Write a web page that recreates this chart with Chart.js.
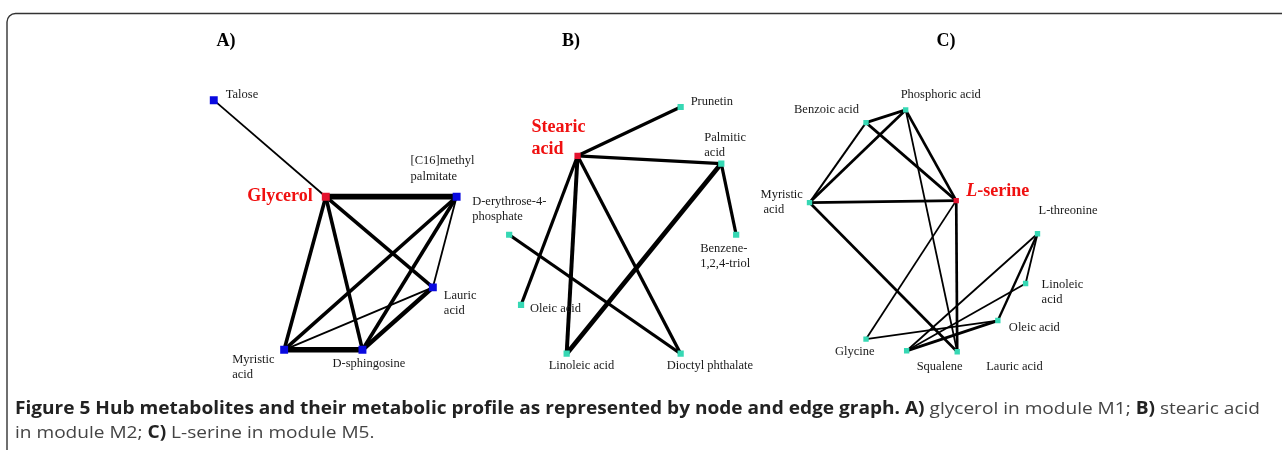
<!DOCTYPE html>
<html>
<head>
<meta charset="utf-8">
<script src="https://cdn.jsdelivr.net/npm/chart.js@4/dist/chart.umd.min.js"></script>
<style>
  html, body { margin: 0; padding: 0; background: #fff; }
  #wrap { width: 1282px; height: 450px; }
</style>
</head>
<body>
<div id="wrap"><canvas id="graph" width="1282" height="450"></canvas></div>
<script>
// Panel A - glycerol module M1
var namesA = ['Talose', 'Glycerol', '[C16]methyl palmitate', 'Lauric acid', 'Myristic acid', 'D-sphingosine'];
var xA = [210, 323, 455, 431, 281, 360];
var yA = [97, 196, 196, 289, 353, 353];
var edgesA = [[0, 1, 1], [1, 2, 3.2], [1, 4, 2], [1, 5, 2], [1, 3, 2], [2, 4, 2], [2, 5, 2], [2, 3, 1], [3, 4, 1], [3, 5, 2.5], [4, 5, 3]];

// Panel B - stearic acid module M2
var namesB = ['Prunetin', 'Stearic acid', 'Palmitic acid', 'D-erythrose-4-phosphate', 'Benzene-1,2,4-triol', 'Oleic acid', 'Linoleic acid', 'Dioctyl phthalate'];
var xB = [681, 577, 722, 508, 737, 520, 566, 681];
var yB = [104, 154, 162, 235, 235, 307, 357, 357];
var edgesB = [[1, 0, 1.8], [1, 2, 1.8], [1, 5, 1.8], [1, 6, 2.2], [1, 7, 1.8], [2, 4, 1.8], [2, 6, 2.6], [3, 7, 1.8]];

// Panel C - L-serine module M5
var namesC = ['Phosphoric acid', 'Benzoic acid', 'Myristic acid', 'L-serine', 'L-threonine', 'Linoleic acid', 'Oleic acid', 'Glycine', 'Squalene', 'Lauric acid'];
var xC = [908, 868, 811, 959, 1041, 1029, 1001, 868, 909, 960];
var yC = [107, 120, 202, 200, 234, 285, 323, 342, 354, 355];
var edgesC = [[1, 0, 1.6], [1, 2, 1.1], [0, 2, 1.5], [1, 3, 1.5], [0, 3, 1.5], [0, 9, 1], [2, 3, 1.6], [2, 9, 1.5], [3, 9, 1.5], [3, 7, 1], [7, 6, 1], [8, 4, 1], [8, 5, 1], [8, 6, 1.6], [4, 5, 1], [4, 6, 1.3]];

var hubs = { A: 1, B: 1, C: 3 };
var panelTitles = ['A)', 'B)', 'C)'];

// label placement: [dx, dy, text, align] per text line, relative to the node
var labelLayout = {
  A: [
    [[12, -5, 'Talose']],
    [[-13, 0, 'Glycerol', 'right']],
    [[-46, -36, '[C16]methyl'], [-46, -20, 'palmitate']],
    [[11, 8, 'Lauric'], [11, 23, 'acid']],
    [[-52, 10, 'Myristic'], [-52, 25, 'acid']],
    [[-30, 14, 'D-sphingosine']]
  ],
  B: [
    [[10, -5, 'Prunetin']],
    [[-46, -28, 'Stearic'], [-46, -6, 'acid']],
    [[-17, -26, 'Palmitic'], [-17, -11, 'acid']],
    [[-37, -33, 'D-erythrose-4-'], [-37, -18, 'phosphate']],
    [[-36, 14, 'Benzene-'], [-36, 29, '1,2,4-triol']],
    [[9, 4, 'Oleic acid']],
    [[-18, 12, 'Linoleic acid']],
    [[-14, 12, 'Dioctyl phthalate']]
  ],
  C: [
    [[-5, -15, 'Phosphoric acid']],
    [[-72, -13, 'Benzoic acid']],
    [[-49, -8, 'Myristic'], [-46, 7, 'acid']],
    [[10, -9, 'L-serine']],
    [[1, -23, 'L-threonine']],
    [[16, 1, 'Linoleic'], [16, 16, 'acid']],
    [[11, 7, 'Oleic acid']],
    [[-31, 13, 'Glycine']],
    [[10, 16, 'Squalene']],
    [[29, 15, 'Lauric acid']]
  ]
};

var captionLines = [
  [['b', 'Figure 5 Hub metabolites and their metabolic profile as represented by node and edge graph. A)'], ['n', ' glycerol in module M1; '], ['b', 'B)'], ['n', ' stearic acid']],
  [['n', 'in module M2; '], ['b', 'C)'], ['n', ' L-serine in module M5.']]
];

var panels = [
  { key: 'A', names: namesA, xs: xA, ys: yA, edges: edgesA, color: '#0a0ae0', size: 5.6, titleX: 226 },
  { key: 'B', names: namesB, xs: xB, ys: yB, edges: edgesB, color: '#36d8b4', size: 4.4, titleX: 571 },
  { key: 'C', names: namesC, xs: xC, ys: yC, edges: edgesC, color: '#36d8b4', size: 3.8, titleX: 946 }
];

var widthFor = function(w) { return 1.8 * w; };

var datasets = [];
panels.forEach(function(p) {
  p.edges.forEach(function(e) {
    datasets.push({
      type: 'scatter',
      data: [{ x: p.xs[e[0]], y: p.ys[e[0]] }, { x: p.xs[e[1]], y: p.ys[e[1]] }],
      showLine: true,
      borderColor: '#000',
      borderWidth: widthFor(e[2]),
      pointRadius: 0,
      order: 2
    });
  });
  var pts = p.names.map(function(n, i) { return { x: p.xs[i], y: p.ys[i] }; });
  datasets.push({
    type: 'scatter',
    data: pts,
    pointStyle: 'rect',
    pointRadius: p.size,
    pointBackgroundColor: p.names.map(function(n, i) { return i === hubs[p.key] ? '#e4132f' : p.color; }),
    pointBorderWidth: 0,
    order: 1
  });
});

var overlay = {
  id: 'overlay',
  afterDraw: function(chart) {
    var ctx = chart.ctx;
    var sx = chart.scales.x, sy = chart.scales.y;
    ctx.save();

    // frame
    ctx.strokeStyle = '#333';
    ctx.lineWidth = 1.4;
    ctx.beginPath();
    ctx.moveTo(7, 452);
    ctx.lineTo(7, 22);
    ctx.arcTo(7, 13.5, 16, 13.5, 8.5);
    ctx.lineTo(1284, 13.5);
    ctx.stroke();

    // panel titles
    ctx.fillStyle = '#000';
    ctx.font = 'bold 18px "Liberation Serif"';
    ctx.textAlign = 'center';
    ctx.textBaseline = 'middle';
    panels.forEach(function(p, i) { ctx.fillText(panelTitles[i], p.titleX, 41); });

    // node labels
    panels.forEach(function(p) {
      labelLayout[p.key].forEach(function(lines, i) {
        var px = sx.getPixelForValue(p.xs[i]);
        var py = sy.getPixelForValue(p.ys[i]);
        var hub = i === hubs[p.key];
        lines.forEach(function(l) {
          ctx.textAlign = l[3] || 'left';
          ctx.textBaseline = 'middle';
          if (hub) {
            ctx.fillStyle = '#f01010';
            if (p.key === 'C') {
              ctx.font = 'italic bold 18px "Liberation Serif"';
              ctx.fillText('L', px + l[0], py + l[1]);
              var w = ctx.measureText('L').width;
              ctx.font = 'bold 18px "Liberation Serif"';
              ctx.fillText('-serine', px + l[0] + w, py + l[1]);
            } else {
              ctx.font = 'bold 18px "Liberation Serif"';
              ctx.fillText(l[2], px + l[0], py + l[1]);
            }
          } else {
            ctx.fillStyle = '#1a1a1a';
            ctx.font = '12.5px "Liberation Serif"';
            ctx.fillText(l[2], px + l[0], py + l[1]);
          }
        });
      });
    });

    // caption: condensed sans, squeezed to the reference line width
    var size = 17;
    var fontFor = function(kind) {
      return (kind === 'b' ? 'bold ' : '') + size + 'px "Open Sans"';
    };
    var lineWidth = function(segs) {
      var t = 0;
      segs.forEach(function(s) { ctx.font = fontFor(s[0]); t += ctx.measureText(s[1]).width; });
      return t;
    };
    var left = 15, right = 1260;
    var squeeze = (right - left) / lineWidth(captionLines[0]);
    ctx.textAlign = 'left';
    ctx.textBaseline = 'alphabetic';
    captionLines.forEach(function(segs, li) {
      ctx.save();
      ctx.translate(left, 414 + li * 24);
      ctx.scale(squeeze, 1);
      var x = 0;
      segs.forEach(function(s) {
        ctx.font = fontFor(s[0]);
        ctx.fillStyle = s[0] === 'b' ? '#222' : '#444';
        ctx.fillText(s[1], x, 0);
        x += ctx.measureText(s[1]).width;
      });
      ctx.restore();
    });
    ctx.restore();
  }
};

new Chart(document.getElementById('graph'), {
  type: 'scatter',
  data: { datasets: datasets },
  options: {
    responsive: false,
    animation: false,
    events: [],
    layout: { padding: 0 },
    plugins: { legend: { display: false }, tooltip: { enabled: false } },
    scales: {
      x: { type: 'linear', min: 0, max: 1282, display: false },
      y: { type: 'linear', min: 0, max: 450, reverse: true, display: false }
    }
  },
  plugins: [overlay]
});
</script>
</body>
</html>
